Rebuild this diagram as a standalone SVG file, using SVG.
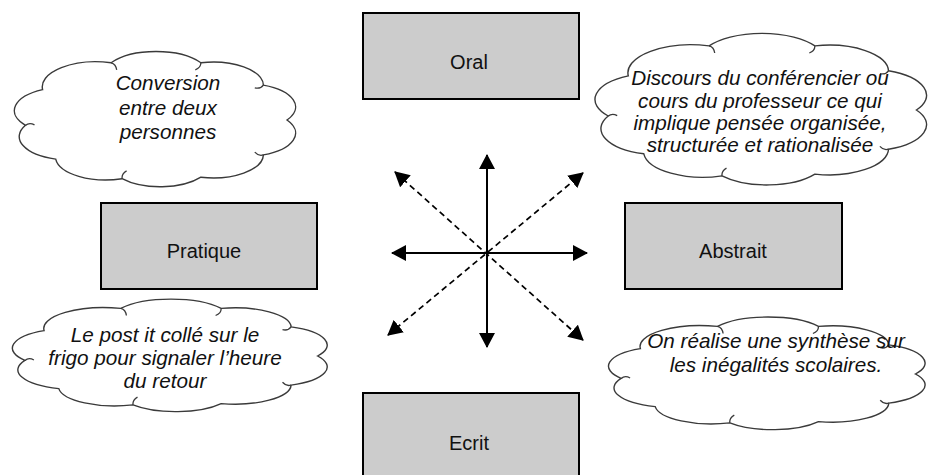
<svg xmlns="http://www.w3.org/2000/svg" width="933" height="475" viewBox="0 0 933 475">
<defs>
<style>
.box{fill:#cccccc;stroke:#000;stroke-width:2}
.bt{font-family:"Liberation Sans",Arial,sans-serif;font-size:20px;fill:#111;text-anchor:middle}
.ct{font-family:"Liberation Sans",Arial,sans-serif;font-size:20.7px;font-style:italic;fill:#111;text-anchor:middle}
.cloud{fill:#fff;stroke:#3a3a3a;stroke-width:1.4}
.hook{fill:none;stroke:#3a3a3a;stroke-width:1.3}
.solid{stroke:#000;stroke-width:2;fill:none;marker-start:url(#ah);marker-end:url(#ah)}
.dash{stroke:#000;stroke-width:1.7;stroke-dasharray:6 4;fill:none;marker-start:url(#ah);marker-end:url(#ah)}
</style>
<marker id="ah" viewBox="0 0 15 16" refX="14" refY="8" markerUnits="userSpaceOnUse" markerWidth="15" markerHeight="16" orient="auto-start-reverse">
<path d="M0,0 L15,8 L0,16 z" fill="#000"/>
</marker>
</defs>
<rect width="933" height="475" fill="#fff"/>

<g id="connectors">
<line class="solid" x1="487" y1="155" x2="487" y2="347"/>
<line class="solid" x1="392" y1="253" x2="587" y2="253"/>
<line class="dash" x1="395" y1="172" x2="583" y2="340"/>
<line class="dash" x1="388" y1="335" x2="583" y2="173"/>
</g>

<g id="oral"><rect class="box" x="363" y="13" width="216" height="86"/><text class="bt" x="469" y="69">Oral</text></g>
<g id="ecrit"><rect class="box" x="363" y="393" width="216" height="86"/><text class="bt" x="469" y="450">Ecrit</text></g>
<g id="pratique"><rect class="box" x="101" y="203" width="216" height="86"/><text class="bt" x="204" y="258">Pratique</text></g>
<g id="abstrait"><rect class="box" x="625" y="203" width="217" height="86"/><text class="bt" x="733" y="258">Abstrait</text></g>

<g id="cloud-conversion">
<path class="cloud" d="M287,120 A50.4,23.4 0 0 1 263.4,154.9 A50.4,23.4 0 0 1 200.9,177.2 A50.4,23.4 0 0 1 122.1,178.7 A50.4,23.4 0 0 1 55.7,159.1 A50.4,23.4 0 0 1 25.5,125.3 A50.4,23.4 0 0 1 42.6,89.6 A53.8,25 0 0 1 111.1,62.8 A53.8,25 0 0 1 200.9,62.8 A50.4,23.4 0 0 1 263.4,85.1 A50.4,23.4 0 0 1 287,120 Z"/>
<path class="hook" d="M200.9,62.8 q-0.1,5 -5.6,7.1 M263.4,85.1 q-2.9,4.1 -8.6,2.8 M263.4,154.9 q-4.7,1.6 -8.6,-2.8 M122.1,178.7 q-0.6,-5 4.5,-7.8 M25.5,125.3 q3.9,-3.2 9,-0.4 M111.1,62.8 q4.9,1.3 5.6,7.1"/>
<text class="ct" x="168" y="90">Conversion</text>
<text class="ct" x="168" y="115">entre deux</text>
<text class="ct" x="168" y="139">personnes</text>
</g>
<g id="cloud-discours">
<path class="cloud" d="M916.4,110 A59.4,26.25 0 0 1 888.5,149.2 A59.4,26.25 0 0 1 814.9,174.1 A59.4,26.25 0 0 1 722,175.9 A59.4,26.25 0 0 1 643.8,153.8 A59.4,26.25 0 0 1 608.2,116 A59.4,26.25 0 0 1 628.3,75.9 A63.4,28 0 0 1 709.1,45.9 A63.4,28 0 0 1 814.9,45.9 A59.4,26.25 0 0 1 888.5,70.8 A59.4,26.25 0 0 1 916.4,110 Z"/>
<path class="hook" d="M814.9,45.9 q-0.1,5 -5.6,7.1 M888.5,70.8 q-2.9,4.1 -8.6,2.8 M888.5,149.2 q-4.7,1.6 -8.6,-2.8 M722,175.9 q-0.6,-5 4.5,-7.8 M608.2,116 q3.9,-3.2 9,-0.4 M709.1,45.9 q4.9,1.3 5.6,7.1"/>
<text class="ct" x="760" y="85">Discours du conférencier ou</text>
<text class="ct" x="760" y="107.5">cours du professeur ce qui</text>
<text class="ct" x="760" y="129.5">implique pensée organisée,</text>
<text class="ct" x="760" y="152">structurée et rationalisée</text>
</g>
<g id="cloud-postit">
<path class="cloud" d="M317.6,356 A56.4,19.5 0 0 1 291.1,385.1 A56.4,19.5 0 0 1 221.2,403.6 A56.4,19.5 0 0 1 133,404.9 A56.4,19.5 0 0 1 58.8,388.6 A56.4,19.5 0 0 1 24.9,360.4 A56.4,19.5 0 0 1 44.1,330.6 A60.2,20.8 0 0 1 120.8,308.4 A60.2,20.8 0 0 1 221.2,308.4 A56.4,19.5 0 0 1 291.1,326.9 A56.4,19.5 0 0 1 317.6,356 Z"/>
<path class="hook" d="M221.2,308.4 q-0.1,5 -5.6,7.1 M291.1,326.9 q-2.9,4.1 -8.6,2.8 M291.1,385.1 q-4.7,1.6 -8.6,-2.8 M133,404.9 q-0.6,-5 4.5,-7.8 M24.9,360.4 q3.9,-3.2 9,-0.4 M120.8,308.4 q4.9,1.3 5.6,7.1"/>
<text class="ct" x="165" y="342">Le post it collé sur le</text>
<text class="ct" x="165" y="365">frigo pour signaler l’heure</text>
<text class="ct" x="165" y="388">du retour</text>
</g>
<g id="cloud-synthese">
<path class="cloud" d="M915.4,374 A56.7,19.5 0 0 1 888.8,403.1 A56.7,19.5 0 0 1 818.5,421.6 A56.7,19.5 0 0 1 729.8,422.9 A56.7,19.5 0 0 1 655.2,406.6 A56.7,19.5 0 0 1 621.1,378.4 A56.7,19.5 0 0 1 640.4,348.6 A60.5,20.8 0 0 1 717.5,326.4 A60.5,20.8 0 0 1 818.5,326.4 A56.7,19.5 0 0 1 888.8,344.9 A56.7,19.5 0 0 1 915.4,374 Z"/>
<path class="hook" d="M818.5,326.4 q-0.1,5 -5.6,7.1 M888.8,344.9 q-2.9,4.1 -8.6,2.8 M888.8,403.1 q-4.7,1.6 -8.6,-2.8 M729.8,422.9 q-0.6,-5 4.5,-7.8 M621.1,378.4 q3.9,-3.2 9,-0.4 M717.5,326.4 q4.9,1.3 5.6,7.1"/>
<text class="ct" x="776" y="348">On réalise une synthèse sur</text>
<text class="ct" x="776" y="372">les inégalités scolaires.</text>
</g>
</svg>
